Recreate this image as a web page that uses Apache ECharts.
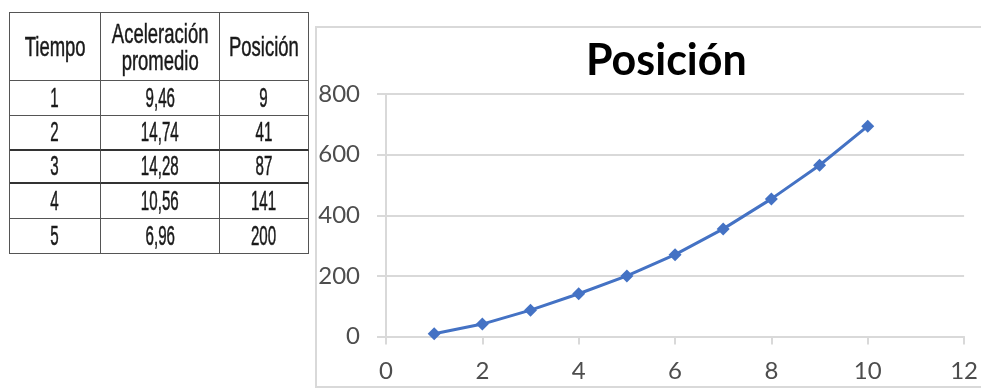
<!DOCTYPE html>
<html><head><meta charset="utf-8">
<script src="https://cdn.jsdelivr.net/npm/echarts@6/dist/echarts.min.js"></script>
<style>
html,body{margin:0;padding:0;background:#fff;}
#chart{position:absolute;left:0;top:0;width:981px;height:390px;}
#tabla{position:absolute;left:9px;top:12px;display:grid;grid-template-columns:91px 119px 89px;grid-template-rows:68px 35px 35px 33px 35px 35px;border-top:1.5px solid #555;border-left:1.5px solid #555;font-family:"Liberation Sans",Arial,sans-serif;color:#1a1a1a;}
.c{box-sizing:border-box;display:flex;align-items:center;justify-content:center;border-right:1.5px solid #555;border-bottom:1.5px solid #555;overflow:visible;white-space:nowrap;}
.c span{display:inline-block;transform:scaleX(0.56);font-size:27px;line-height:1;-webkit-text-stroke:0.5px #1a1a1a;}
.h span{font-size:28px;line-height:27px;text-align:center;transform:scaleX(0.66);}
.t{border-bottom:2.5px solid #333;}
</style></head>
<body>
<div id="chart"></div>
<div id="tabla"></div>
<script>
// Table data
const encabezados = ['Tiempo', 'Aceleración<br>promedio', 'Posición'];
const tablaTiempo = [1, 2, 3, 4, 5];
const tablaAceleracion = ['9,46', '14,74', '14,28', '10,56', '6,96'];
const tablaPosicion = [9, 41, 87, 141, 200];

// Chart data
const tiempo = [1, 2, 3, 4, 5, 6, 7, 8, 9, 10];
const posicion = [9, 41, 87, 141, 200, 270, 355, 454, 565, 694];
const tituloGrafico = 'Posición';

// Build table
const tabla = document.getElementById('tabla');
let html = '';
encabezados.forEach(h => { html += '<div class="c h"><span>' + h + '</span></div>'; });
tablaTiempo.forEach((t, i) => {
  const cls = (i === 1 || i === 2) ? 'c t' : 'c';
  html += '<div class="' + cls + '"><span>' + t + '</span></div>';
  html += '<div class="' + cls + '"><span>' + tablaAceleracion[i] + '</span></div>';
  html += '<div class="' + cls + '"><span>' + tablaPosicion[i] + '</span></div>';
});
tabla.innerHTML = html;

const chart = echarts.init(document.getElementById('chart'));
const gridCol = '#d9d9d9';
const labelStyle = { color: '#4d4d4d', fontSize: 24, fontFamily: 'Lato' };
chart.setOption({
  animation: false,
  backgroundColor: '#fff',
  graphic: [{
    type: 'rect', z: -10,
    shape: { x: 316, y: 27, width: 700, height: 360 },
    style: { fill: 'none', stroke: gridCol, lineWidth: 2 }
  }],
  title: {
    text: tituloGrafico, left: 581, top: 35,
    textStyle: { fontFamily: 'Lato', fontWeight: 'bold', fontSize: 43, color: '#000' }
  },
  grid: { left: 386, right: 15, top: 94, bottom: 53.5 },
  xAxis: {
    type: 'value', min: 0, max: 12, interval: 2,
    axisLine: { show: true, lineStyle: { color: gridCol, width: 2 } },
    axisTick: { show: true, length: 8, lineStyle: { color: gridCol, width: 2 } },
    splitLine: { show: false },
    axisLabel: Object.assign({ margin: 23 }, labelStyle)
  },
  yAxis: {
    type: 'value', min: 0, max: 800, interval: 200,
    axisLine: { show: true, lineStyle: { color: gridCol, width: 2 } },
    axisTick: { show: true, length: 9, lineStyle: { color: gridCol, width: 2 } },
    splitLine: { show: true, lineStyle: { color: gridCol, width: 2 } },
    axisLabel: Object.assign({ margin: 26 }, labelStyle)
  },
  series: [{
    type: 'line',
    data: tiempo.map((t, i) => [t, posicion[i]]),
    symbol: 'diamond', symbolSize: 13,
    lineStyle: { color: '#4472C4', width: 3 },
    itemStyle: { color: '#4472C4' }
  }]
});
</script>
</body></html>
